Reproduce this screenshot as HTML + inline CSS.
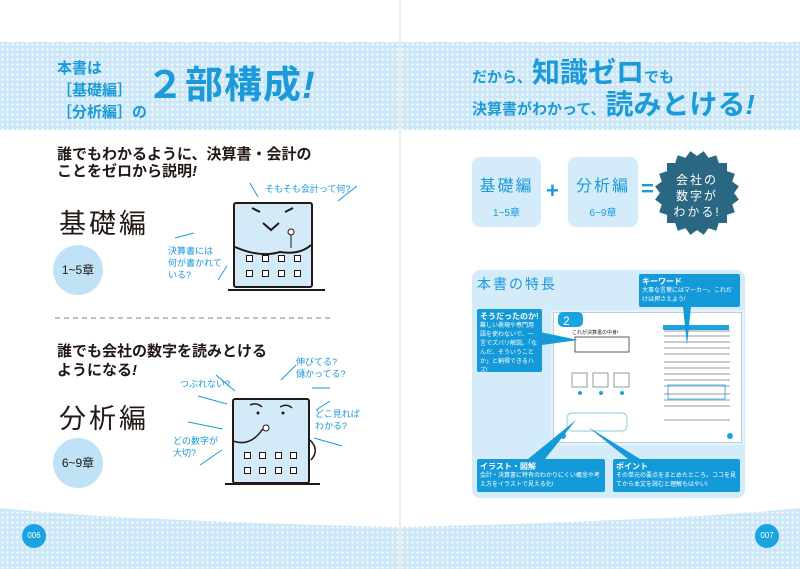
<!DOCTYPE html>
<html><head><meta charset="utf-8">
<style>
*{margin:0;padding:0;box-sizing:border-box}
body{width:800px;height:569px;position:relative;overflow:hidden;background:#fff;font-family:"Liberation Sans","Noto Sans CJK JP",sans-serif;color:#231815}
.a{position:absolute;white-space:nowrap}
.band{position:absolute;top:42px;height:88px;background-color:#cbe7f8;background-image:radial-gradient(circle,#fff 1px,transparent 1.3px);background-size:5px 5px}
.b{font-weight:bold}
.blue{color:#1a9ad9}
.circ{position:absolute;width:50px;height:50px;border-radius:50%;background:#bfe2f7;font-size:12px;text-align:center;line-height:50px}
.bld{position:absolute;background:#d3ebf9;border:2px solid #231815;border-radius:3px}
.win{position:absolute;width:7px;height:7px;border:1.5px solid #231815;background:#fff}
.hw{position:absolute;color:#1a9ad9;font-size:9px;line-height:12px;white-space:nowrap}
.box{position:absolute;background:#d4ebf9;border-radius:8px;text-align:center;color:#1a9ad9}
.co{position:absolute;background:#149ad9;color:#fff;font-size:6px;line-height:9px;padding:2px 3px;border-radius:2px;white-space:normal;overflow:hidden}
.co b{font-size:8px;display:block;line-height:11px}
.pn{position:absolute;width:24px;height:24px;border-radius:50%;background:#1aa3e0;color:#fff;font-size:8px;text-align:center;line-height:24px}
.sq{position:absolute;left:15px;top:15px;width:60px;height:60px;background:#2a6783}
</style></head><body>
<svg class="a" style="left:0;top:0" width="800" height="569">
<defs><pattern id="dp" width="5" height="5" patternUnits="userSpaceOnUse"><rect width="5" height="5" fill="#cbe7f8"/><circle cx="2.5" cy="2.5" r="1.1" fill="#fff"/></pattern></defs>
<path d="M0 508 Q40 512 100 516 Q250 524 400 527 Q550 524 700 516 Q760 512 800 508 L800 569 L0 569Z" fill="url(#dp)"/>
</svg>
<div class="band" style="left:0;width:800px"></div>
<div style="position:absolute;left:399px;top:0;width:2px;height:569px;background:#eee"></div>

<!-- left header -->
<div class="a b blue" style="left:57px;top:58px;font-size:15px;line-height:22px">本書は<br>［基礎編］<br>［分析編］の</div>
<div class="a b blue" style="left:146px;top:64px;font-size:38px;line-height:44px;letter-spacing:1px">２部構成<i>!</i></div>

<!-- left section 1 -->
<div class="a b" style="left:57px;top:146px;font-size:15px;line-height:17px">誰でもわかるように、決算書・会計の<br>ことをゼロから説明<i>!</i></div>
<div class="a" style="left:59px;top:202px;font-size:27px;letter-spacing:3px">基礎編</div>
<div class="circ" style="left:53px;top:245px">1~5章</div>
<div class="bld" style="left:233px;top:202px;width:80px;height:86px"></div>
<svg class="a" style="left:0;top:0" width="400" height="569">
<path d="M235 247 Q260 258 280 252 Q300 255 311 245" stroke="#231815" stroke-width="2" fill="none"/>
<path d="M263 223 l8 7 l8 -7 M252 208 l8 4 M285 212 l8 -4" stroke="#231815" stroke-width="2" fill="none"/>
<circle cx="291" cy="232" r="3" fill="#fff" stroke="#231815"/>
<line x1="291" y1="235" x2="291" y2="248" stroke="#231815"/>
<line x1="228" y1="290" x2="325" y2="290" stroke="#231815" stroke-width="2"/>
<g stroke="#1a9ad9" stroke-width="1"><line x1="250" y1="183" x2="258" y2="197"/><line x1="338" y1="201" x2="357" y2="186"/><line x1="175" y1="238" x2="194" y2="233"/><line x1="218" y1="280" x2="227" y2="266"/></g>
<line x1="55" y1="318" x2="330" y2="318" stroke="#aaa" stroke-width="1.5" stroke-dasharray="5 4"/>
</svg>
<div class="win" style="left:246px;top:255px"></div><div class="win" style="left:262px;top:255px"></div><div class="win" style="left:278px;top:255px"></div><div class="win" style="left:294px;top:255px"></div>
<div class="win" style="left:246px;top:270px"></div><div class="win" style="left:262px;top:270px"></div><div class="win" style="left:278px;top:270px"></div><div class="win" style="left:294px;top:270px"></div>
<div class="hw" style="left:265px;top:183px">そもそも会計って何?</div>
<div class="hw" style="left:168px;top:245px">決算書には<br>何が書かれて<br>いる?</div>

<!-- left section 2 -->
<div class="a b" style="left:57px;top:342px;font-size:15px;line-height:19px">誰でも会社の数字を読みとける<br>ようになる<i>!</i></div>
<div class="a" style="left:59px;top:397px;font-size:27px;letter-spacing:3px">分析編</div>
<div class="circ" style="left:53px;top:438px">6~9章</div>
<div class="bld" style="left:232px;top:398px;width:78px;height:86px"></div>
<svg class="a" style="left:0;top:0" width="400" height="569">
<path d="M250 405 q7 -3 12 2 M280 407 q7 -4 12 1" stroke="#231815" stroke-width="1.5" fill="none"/>
<circle cx="258" cy="413" r="1.5" fill="#231815"/><circle cx="283" cy="413" r="1.5" fill="#231815"/>
<path d="M233 441 Q250 447 262 430 L268 425" stroke="#231815" stroke-width="1.5" fill="none"/>
<circle cx="266" cy="428" r="3" fill="#fff" stroke="#231815"/>
<path d="M310 440 Q320 450 311 460" stroke="#231815" stroke-width="1.5" fill="none"/>
<line x1="225" y1="484" x2="320" y2="484" stroke="#231815" stroke-width="2"/>
<g stroke="#1a9ad9" stroke-width="1"><line x1="216" y1="375" x2="235" y2="391"/><line x1="198" y1="396" x2="227" y2="404"/><line x1="188" y1="422" x2="223" y2="429"/><line x1="200" y1="465" x2="222" y2="450"/><line x1="281" y1="380" x2="296" y2="365"/><line x1="312" y1="388" x2="330" y2="388"/><line x1="316" y1="410" x2="330" y2="401"/><line x1="314" y1="438" x2="342" y2="446"/></g>
</svg>
<div class="win" style="left:244px;top:452px"></div><div class="win" style="left:259px;top:452px"></div><div class="win" style="left:275px;top:452px"></div><div class="win" style="left:290px;top:452px"></div>
<div class="win" style="left:244px;top:467px"></div><div class="win" style="left:259px;top:467px"></div><div class="win" style="left:275px;top:467px"></div><div class="win" style="left:290px;top:467px"></div>
<div class="hw" style="left:180px;top:378px">つぶれない?</div>
<div class="hw" style="left:296px;top:356px">伸びてる?<br>儲かってる?</div>
<div class="hw" style="left:315px;top:408px">どこ見れば<br>わかる?</div>
<div class="hw" style="left:173px;top:435px">どの数字が<br>大切?</div>
<div class="pn" style="left:22px;top:524px">006</div>

<!-- right header -->
<div class="a b blue" style="left:472px;top:58px;font-size:15px;line-height:30px">だから、<span style="font-size:28px">知識ゼロ</span>でも</div>
<div class="a b blue" style="left:472px;top:90px;font-size:15px;line-height:30px">決算書がわかって、<span style="font-size:28px">読みとける<i>!</i></span></div>

<div class="box" style="left:472px;top:157px;width:69px;height:70px"><div style="font-size:16px;margin-top:15px;letter-spacing:2px">基礎編</div><div style="font-size:10px;margin-top:8px">1~5章</div></div>
<div class="a b blue" style="left:546px;top:178px;font-size:22px">+</div>
<div class="box" style="left:568px;top:157px;width:70px;height:70px"><div style="font-size:16px;margin-top:15px;letter-spacing:2px">分析編</div><div style="font-size:10px;margin-top:8px">6~9章</div></div>
<div class="a b blue" style="left:641px;top:176px;font-size:22px">=</div>
<div style="position:absolute;left:652px;top:148px;width:90px;height:90px">
<div class="sq"></div>
<div class="sq" style="transform:rotate(18deg)"></div>
<div class="sq" style="transform:rotate(36deg)"></div>
<div class="sq" style="transform:rotate(54deg)"></div>
<div class="sq" style="transform:rotate(72deg)"></div>
<div style="position:absolute;left:0;top:24px;width:90px;text-align:center;color:#fff;font-size:12px;line-height:16px;letter-spacing:2px">会社の<br>数字が<br>わかる!</div>
</div>

<!-- features -->
<div style="position:absolute;left:472px;top:270px;width:273px;height:228px;background:#d4ebf9;border-radius:8px"></div>
<div class="a blue" style="left:477px;top:274px;font-size:14px;letter-spacing:2px">本書の特長</div>
<div style="position:absolute;left:553px;top:312px;width:189px;height:131px;background:#fff;border:1px solid #bcd;box-shadow:0 0 0 2px #e5f2fb"></div>
<svg class="a" style="left:400px;top:0" width="400" height="569">
<rect x="158" y="312" width="25" height="15" rx="5" fill="#1aa3e0"/>
<text x="163" y="325" fill="#fff" font-size="12" font-family="Liberation Sans">2</text>
<text x="172" y="334" font-size="5" fill="#231815" font-family="Noto Sans CJK JP">これが決算書の中身!</text>
<rect x="175" y="337" width="54" height="15" fill="#fff" stroke="#333" stroke-width="0.8"/>
<g fill="none" stroke="#555" stroke-width="0.6"><rect x="172" y="373" width="15" height="14"/><rect x="193" y="373" width="15" height="14"/><rect x="214" y="373" width="15" height="14"/></g>
<g fill="#1aa3e0"><circle cx="180" cy="393" r="2"/><circle cx="201" cy="393" r="2"/><circle cx="222" cy="393" r="2"/><circle cx="163" cy="436" r="3"/><circle cx="330" cy="436" r="3"/></g>
<rect x="167" y="413" width="60" height="18" rx="5" fill="#fff" stroke="#6bc" stroke-width="0.7"/>
<g stroke="#bbb" stroke-width="1.5"><line x1="264" y1="331" x2="330" y2="331"/><line x1="264" y1="336" x2="330" y2="336"/><line x1="264" y1="342" x2="330" y2="342"/><line x1="264" y1="348" x2="330" y2="348"/><line x1="264" y1="354" x2="330" y2="354"/><line x1="264" y1="362" x2="330" y2="362"/><line x1="264" y1="368" x2="330" y2="368"/><line x1="264" y1="374" x2="330" y2="374"/><line x1="264" y1="380" x2="330" y2="380"/><line x1="264" y1="386" x2="330" y2="386"/><line x1="264" y1="394" x2="330" y2="394"/><line x1="264" y1="400" x2="330" y2="400"/><line x1="264" y1="406" x2="330" y2="406"/><line x1="264" y1="420" x2="330" y2="420"/></g>
<rect x="263" y="325" width="66" height="5" fill="#1aa3e0"/>
<rect x="268" y="385" width="57" height="14" fill="none" stroke="#1aa3e0" stroke-width="0.8"/>
<g fill="#149ad9">
<polygon points="140,332 142,345 178,340"/>
<polygon points="283,307 291,307 287,345"/>
<polygon points="128,459 145,459 176,420"/>
<polygon points="228,459 240,459 188,427"/>
</g>
</svg>
<div class="co" style="left:639px;top:274px;width:101px;height:33px"><b>キーワード</b>大事な言葉にはマーカー。これだけは押さえよう!</div>
<div class="co" style="left:477px;top:309px;width:65px;height:63px"><b>そうだったのか!</b>難しい表現や専門用語を使わないで、一言でズバリ解説。「なんだ、そういうことか」と納得できるハズ!</div>
<div class="co" style="left:477px;top:459px;width:128px;height:33px"><b>イラスト・図解</b>会計・決算書に特有のわかりにくい概念や考え方をイラストで見える化!</div>
<div class="co" style="left:613px;top:459px;width:127px;height:33px"><b>ポイント</b>その単元の要点をまとめたところ。ココを見てから本文を読むと理解もはやい!</div>
<div class="pn" style="left:755px;top:524px">007</div>
</body></html>
